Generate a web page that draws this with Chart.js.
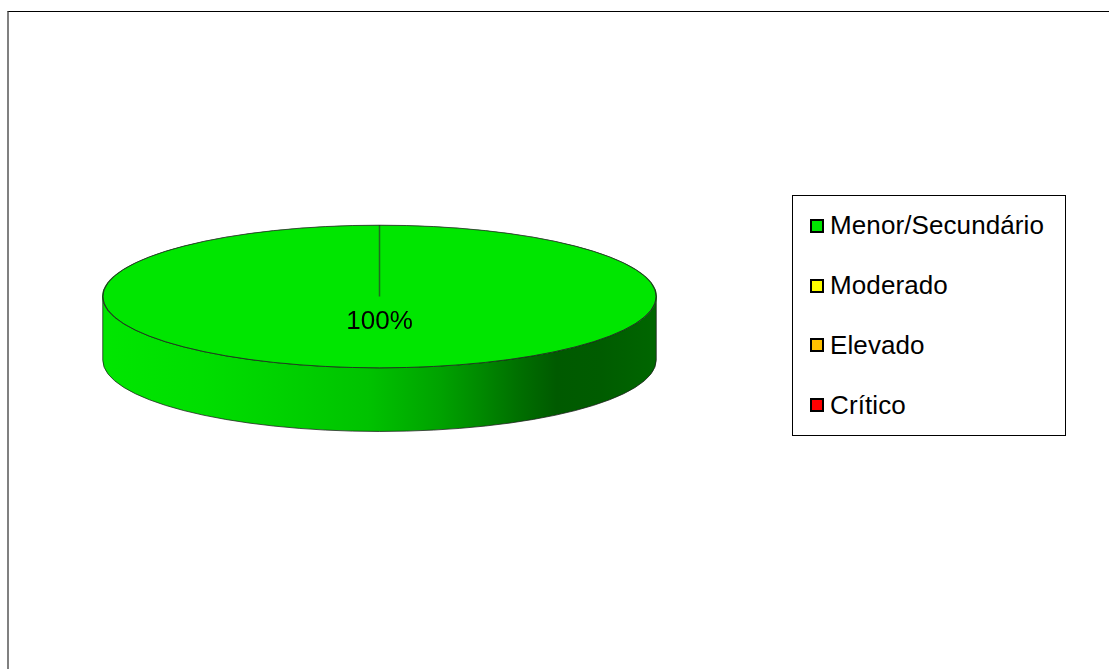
<!DOCTYPE html>
<html>
<head>
<meta charset="utf-8">
<script src="https://cdn.jsdelivr.net/npm/chart.js@4/dist/chart.umd.min.js"></script>
<style>
  html, body { margin: 0; padding: 0; background: #fff; overflow: hidden; }
  body { width: 1109px; height: 669px; position: relative; font-family: "Liberation Sans", Arial, sans-serif; }
  #frame {
    position: absolute; left: 7px; top: 11px; right: -2px; bottom: -4px;
    border-top: 1px solid #000; border-left: 2px solid #808080;
  }
  #riskChart { position: absolute; left: 0; top: 0; }
  #legend {
    position: absolute; left: 792px; top: 195px; width: 272px; height: 239px;
    border: 1px solid #000; background: #fff;
  }
  .item { height: 59.75px; display: flex; align-items: center; padding-left: 17px; }
  .swatch { width: 10px; height: 10px; border: 2px solid #000; margin-right: 6px; }
  .item span { font-size: 26px; letter-spacing: 0.1px; color: #000; }
</style>
</head>
<body>
<div id="frame"></div>
<canvas id="riskChart" width="1109" height="669"></canvas>
<div id="legend"></div>
<script>
const categories = ['Menor/Secundário', 'Moderado', 'Elevado', 'Crítico'];
const shares = [100, 0, 0, 0];
const sliceColors = ['#00E600', '#FFFF00', '#FFC000', '#FF0000'];

// side wall shading, light on the left, dark towards the right
const wallStops = [
    [0.00, '#00E600'], [0.18, '#00DE00'], [0.32, '#00D200'], [0.48, '#00C200'],
    [0.61, '#00A200'], [0.68, '#008A00'], [0.75, '#007000'], [0.82, '#005A00'],
    [0.90, '#005C00'], [1.00, '#006600']
];

const TILT = 0.2577;   // vertical squash of the pie
const DEPTH = 0.23;    // wall height as a share of the radius

const pie3d = {
    id: 'pie3d',
    beforeDatasetsDraw(chart) {
        const ctx = chart.ctx;
        const arcs = chart.getDatasetMeta(0).data;
        const first = arcs[0];
        const cx = first.x, cy = first.y, rx = first.outerRadius, ry = rx * TILT;
        const depth = rx * DEPTH;

        const grad = ctx.createLinearGradient(cx - rx, 0, cx + rx, 0);
        wallStops.forEach(([p, c]) => grad.addColorStop(p, c));

        arcs.forEach(arc => {
            if (arc.circumference <= 0) return;
            // only the part of the rim between 0 and PI faces the viewer
            let a0 = ((arc.startAngle % (2 * Math.PI)) + 2 * Math.PI) % (2 * Math.PI);
            let a1 = a0 + arc.circumference;
            const lo = Math.max(a0, 0), hi = Math.min(a1, Math.PI);
            const segs = [[lo, hi], [Math.max(a0, 2 * Math.PI), Math.min(a1, 3 * Math.PI)]];
            segs.forEach(([s, e]) => {
                if (e <= s) return;
                ctx.save();
                ctx.beginPath();
                ctx.ellipse(cx, cy, rx, ry, 0, s, e, false);
                ctx.ellipse(cx, cy + depth, rx, ry, 0, e, s, true);
                ctx.closePath();
                ctx.fillStyle = grad;
                ctx.fill();
                ctx.strokeStyle = 'rgba(30,30,30,0.75)';
                ctx.lineWidth = 1;
                ctx.stroke();
                ctx.restore();
            });
        });

        // draw the slices themselves squashed into the top face
        ctx.save();
        ctx.translate(cx, cy);
        ctx.scale(1, TILT);
        ctx.translate(-cx, -cy);
    },
    afterDatasetsDraw(chart) {
        const ctx = chart.ctx;
        ctx.restore();
        const arcs = chart.getDatasetMeta(0).data;
        const first = arcs[0];
        const cx = first.x, cy = first.y, rx = first.outerRadius, ry = rx * TILT;

        ctx.save();
        ctx.beginPath();
        ctx.ellipse(cx, cy, rx, ry, 0, 0, 2 * Math.PI);
        ctx.strokeStyle = 'rgba(30,30,30,0.7)';
        ctx.lineWidth = 1;
        ctx.stroke();

        const total = shares.reduce((a, b) => a + b, 0);
        ctx.fillStyle = '#000';
        ctx.font = '26px "Liberation Sans", Arial, sans-serif';
        ctx.textAlign = 'center';
        ctx.textBaseline = 'middle';
        arcs.forEach((arc, i) => {
            if (!shares[i]) return;
            const mid = arc.startAngle + arc.circumference / 2;
            const x = cx + rx * 0.36 * Math.cos(mid);
            const y = cy + ry * 0.36 * Math.sin(mid);
            ctx.fillText(Math.round(shares[i] / total * 100) + '%', x, y);
        });
        ctx.restore();
    }
};

const chart = new Chart(document.getElementById('riskChart'), {
    type: 'pie',
    data: {
        labels: categories,
        datasets: [{
            data: shares,
            backgroundColor: sliceColors,
            borderColor: '#1F6B1F',
            borderWidth: 1.5,
            hoverOffset: 0
        }]
    },
    options: {
        responsive: false,
        animation: false,
        events: [],
        layout: { padding: { left: 102, right: 452, top: 19, bottom: 95 } },
        plugins: {
            legend: { display: false },
            tooltip: { enabled: false }
        }
    },
    plugins: [pie3d]
});

// legend box built from the chart's own labels and colours
const legendBox = document.getElementById('legend');
chart.data.labels.forEach((label, i) => {
    const row = document.createElement('div');
    row.className = 'item';
    const sw = document.createElement('div');
    sw.className = 'swatch';
    sw.style.background = chart.data.datasets[0].backgroundColor[i];
    const txt = document.createElement('span');
    txt.textContent = label;
    row.appendChild(sw);
    row.appendChild(txt);
    legendBox.appendChild(row);
});
</script>
</body>
</html>
